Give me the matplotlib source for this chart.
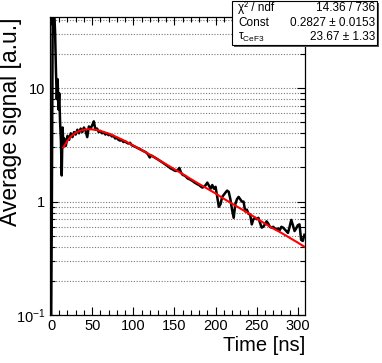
import numpy as np
import matplotlib
matplotlib.use("Agg")
import matplotlib.pyplot as plt
from matplotlib.ticker import FixedLocator, FuncFormatter, MultipleLocator, NullFormatter
from matplotlib.patches import Rectangle

plt.rcParams["font.family"] = ["Liberation Sans", "DejaVu Sans"]
plt.rcParams["mathtext.fontset"] = "custom"
plt.rcParams["mathtext.rm"] = "Liberation Sans"
plt.rcParams["mathtext.it"] = "Liberation Sans"

# averaged waveform (black)
time_ns = [0, 1, 2, 3, 4, 5, 6, 7, 8, 9, 10, 11, 12, 13, 14, 15,
           16, 18, 20, 22, 24, 26, 28, 30, 32, 34, 36, 38, 40, 42, 44, 46, 48, 50,
           52, 54, 56, 58, 60, 62, 64, 66, 68, 70, 72, 74, 76, 78, 80, 82, 84, 86,
           88, 90, 92, 94, 96, 98, 100, 102, 104, 106, 108, 110, 112, 114, 116, 118,
           120, 122, 124, 126, 128, 130, 132, 134, 136, 138, 140, 142, 144, 146, 148,
           150, 152, 154, 156, 158, 160, 162, 164, 166, 168, 170, 172, 174, 176, 178,
           180, 182, 184, 186, 188, 190, 192, 194, 196, 198, 200, 202, 204, 206, 208,
           210, 212, 214, 216, 218, 220, 222, 224, 226, 228, 230, 232, 234, 236, 238,
           240, 242, 244, 246, 248, 250, 252, 254, 256, 258, 260, 262, 264, 266, 268,
           270, 272, 274, 276, 278, 280, 282, 284, 286, 288, 290, 292, 294, 296, 298,
           300, 302, 304, 306, 308]
signal = [0.05, 0.9, 60, 70, 45, 30, 14, 8, 12, 6.5, 9, 5, 3.5, 1.7, 4.5, 3.2,
          3.6, 3.1, 3.8, 3.5, 4.0, 3.7, 4.1, 3.9, 4.3, 4.0, 4.4, 4.1, 4.5, 4.2, 3.7, 4.6, 4.4, 4.7,
          5.1, 4.3, 4.4, 4.1, 4.2, 4.0, 4.1, 3.9, 4.0, 3.85, 3.9, 3.75, 3.8, 3.6, 3.65, 3.5, 3.45, 3.5,
          3.35, 3.4, 3.3, 3.25, 3.3, 3.15, 3.1, 3.05, 3.0, 2.95, 2.9, 2.85, 2.8, 2.75, 2.7, 2.6,
          2.45, 2.55, 2.5, 2.45, 2.4, 2.35, 2.3, 2.25, 2.2, 2.15, 2.1, 2.05, 2.0, 1.95, 1.92,
          1.88, 1.86, 1.9, 1.98, 1.8, 1.72, 1.7, 1.66, 1.6, 1.58, 1.55, 1.52, 1.48, 1.45, 1.42,
          1.4, 1.36, 1.33, 1.35, 1.4, 1.47, 1.38, 1.3, 1.4, 1.3, 1.35, 1.1, 0.9, 0.95, 1.1,
          1.15, 1.2, 1.25, 1.22, 1.05, 0.85, 0.72, 0.95, 1.05, 1.1, 1.05, 1.0, 1.0, 0.82, 0.85,
          0.78, 0.77, 0.63, 0.7, 0.72, 0.7, 0.72, 0.65, 0.59, 0.6, 0.63, 0.67, 0.64, 0.6, 0.59,
          0.6, 0.58, 0.57, 0.58, 0.56, 0.6, 0.59, 0.57, 0.55, 0.53, 0.6, 0.69, 0.62, 0.55, 0.58,
          0.62, 0.63, 0.46, 0.45, 0.51]

# fit curve (red)
fit_t = [15, 20, 25, 30, 35, 40, 45, 50, 55, 60, 70, 80, 90, 100, 110, 120, 130, 140,
         150, 160, 170, 180, 190, 200, 210, 220, 230, 240, 250, 260, 270, 280, 290, 300, 308]
fit_val = [3.0, 3.45, 3.8, 4.05, 4.2, 4.3, 4.35, 4.33, 4.28, 4.2, 3.98, 3.7, 3.42, 3.12,
           2.85, 2.6, 2.35, 2.13, 1.93, 1.75, 1.58, 1.43, 1.3, 1.18, 1.06, 0.96, 0.87, 0.79,
           0.71, 0.64, 0.58, 0.53, 0.48, 0.435, 0.40]

stat_names = ["\u03c7\u00b2 / ndf", "Const", r"$\tau_{\mathregular{CeF3}}$"]
stat_values = ["14.36 / 736", "0.2827 \u00b1 0.0153", "23.67 \u00b1 1.33"]

fig = plt.figure(figsize=(3.82, 3.63), dpi=100)
ax = fig.add_axes([0.131, 0.132, 0.667, 0.820])

ax.set_yscale("log")
ax.set_xlim(-1.2, 308.5)
ax.set_ylim(0.1, 42)

# horizontal dotted grid at every decade step
grid_vals = [m * 10.0 ** e for e in (-1, 0, 1) for m in range(1, 10)]
for g in grid_vals:
    if 0.1 < g < 42:
        ax.axhline(g, color="#777777", lw=0.8, ls=(0, (1, 1.5)), zorder=1)

ax.plot(time_ns, signal, color="black", lw=1.8, zorder=3)
ax.plot(fit_t, fit_val, color="red", lw=1.5, zorder=4)

ax.xaxis.set_major_locator(MultipleLocator(50))
ax.xaxis.set_minor_locator(MultipleLocator(10))
ax.yaxis.set_major_locator(FixedLocator([0.1, 1, 10]))
ax.yaxis.set_minor_locator(FixedLocator(grid_vals))
ax.yaxis.set_minor_formatter(NullFormatter())


def ylab(v, pos):
    if v == 0.1:
        return r"$10^{-1}$"
    if v == 1:
        return "1"
    return "10"


ax.yaxis.set_major_formatter(FuncFormatter(ylab))
ax.tick_params(which="both", direction="in", top=True, right=True, labelsize=10.5, width=0.8)
ax.tick_params(which="major", length=6)
ax.tick_params(which="minor", length=3.5)
ax.tick_params(axis="x", pad=3)
for s in ax.spines.values():
    s.set_linewidth(0.9)

ax.set_xlabel("Time [ns]", fontsize=14.5, loc="right", labelpad=2)
ax.set_ylabel("Average signal [a.u.]", fontsize=16.5, loc="top")
ax.yaxis.set_label_coords(-0.112, 1.0)

# stats box
W, H = 382.0, 363.0
bx0, by0, bx1, by1 = 232, 1, 377, 45
shadow = Rectangle((bx0 / W + 2 / W, 1 - (by1 + 2) / H), (bx1 - bx0) / W, (by1 - by0) / H,
                   transform=fig.transFigure, facecolor="#555555", edgecolor="none", zorder=9)
box = Rectangle((bx0 / W, 1 - by1 / H), (bx1 - bx0) / W, (by1 - by0) / H,
                transform=fig.transFigure, facecolor="white", edgecolor="black", lw=0.8, zorder=10)
fig.add_artist(shadow)
fig.add_artist(box)
rows_y = [8, 23, 37]
for name, val, yy in zip(stat_names, stat_values, rows_y):
    fig.text(238 / W, 1 - yy / H, name, fontsize=8.5, ha="left", va="center", zorder=11)
    fig.text(375 / W, 1 - yy / H, val, fontsize=8.5, ha="right", va="center", zorder=11)

fig.savefig("out.png", dpi=100)
